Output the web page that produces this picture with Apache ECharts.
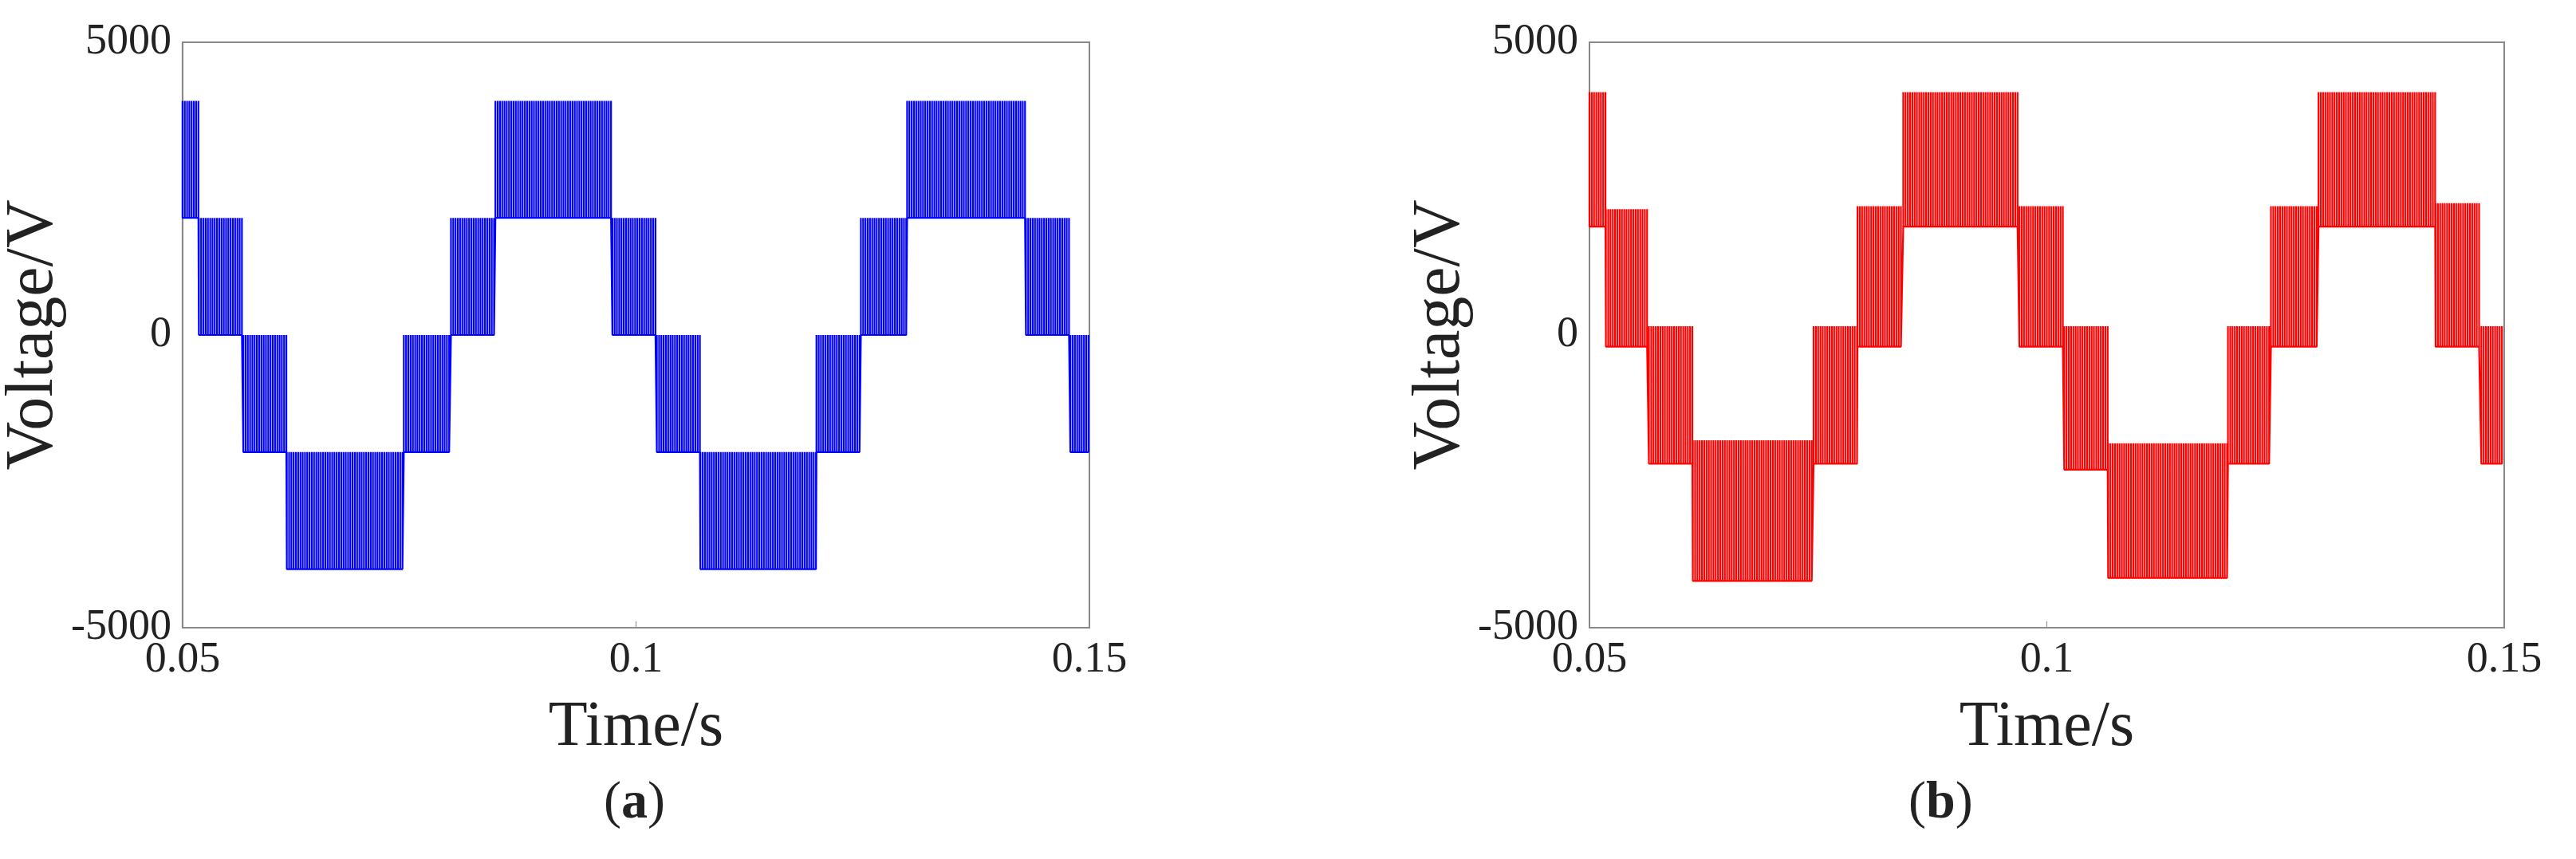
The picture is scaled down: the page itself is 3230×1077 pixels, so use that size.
<!DOCTYPE html>
<html>
<head>
<meta charset="utf-8">
<script src="https://cdn.jsdelivr.net/npm/echarts@6/dist/echarts.min.js"></script>
<style>
html, body { margin: 0; padding: 0; background: #fff; }
#main { width: 3230px; height: 1077px; }
</style>
</head>
<body>
<div id="main"></div>
<script>
// segment boundaries (s) and band low/high (V)
var segA_t = [0.05, 0.0518, 0.0567, 0.0615, 0.0744, 0.0796, 0.0845, 0.0974, 0.1023, 0.1071, 0.1199, 0.1248, 0.1299, 0.1430, 0.1479, 0.15];
var segA_lo = [2000, 0, -2000, -4000, -2000, 0, 2000, 0, -2000, -4000, -2000, 0, 2000, 0, -2000];
var segA_hi = [4000, 2000, 0, -2000, 0, 2000, 4000, 2000, 0, -2000, 0, 2000, 4000, 2000, 0];

var segB_t = [0.05, 0.0518, 0.0565, 0.0613, 0.0745, 0.0793, 0.0843, 0.0970, 0.1019, 0.1067, 0.1198, 0.1245, 0.1297, 0.1425, 0.1475, 0.15];
var segB_lo = [1850, -200, -2200, -4200, -2200, -200, 1850, -200, -2300, -4150, -2200, -200, 1850, -200, -2200];
var segB_hi = [4150, 2150, 150, -1800, 150, 2200, 4150, 2200, 150, -1850, 150, 2200, 4150, 2250, 150];

var xTicks = [0.05, 0.1, 0.15];
var yTicks = [-5000, 0, 5000];

// switching pulses drawn inside each band
function pulses(t, lo, hi, step){
	var out = [];
	for(var i = 0; i < lo.length; i ++){
		for(var x = t[i]; x < t[i + 1]; x += step){
			out.push([x, lo[i]], [x, hi[i]], [x, lo[i]]);
		}
	}
	return out;
}

var chart = echarts.init(document.getElementById('main'));
var font = "'Liberation Serif', 'DejaVu Serif', serif";

function xAxis(idx){
	return {
		gridIndex: idx, type: 'value', min: 0.05, max: 0.15, interval: 0.05,
		name: 'Time/s', nameLocation: 'middle', nameGap: 86,
		nameTextStyle: { fontFamily: font, fontSize: 80, color: '#222' },
		axisLine: { show: true, onZero: false, lineStyle: { color: '#888', width: 2 } },
		axisTick: { show: true, inside: true, length: 8, lineStyle: { color: '#888' } },
		axisLabel: { fontFamily: font, fontSize: 54, color: '#222', margin: 14,
			formatter: function(v){ return xTicks.indexOf(+v.toFixed(2)) >= 0 ? String(+v.toFixed(2)) : ''; } },
		splitLine: { show: false }
	};
}
function yAxis(idx){
	return {
		gridIndex: idx, type: 'value', min: -5000, max: 5000, interval: 5000,
		name: 'Voltage/V', nameLocation: 'middle', nameGap: 140,
		nameTextStyle: { fontFamily: font, fontSize: 84, color: '#222' },
		axisLine: { show: true, onZero: false, lineStyle: { color: '#888', width: 2 } },
		axisTick: { show: false },
		axisLabel: { fontFamily: font, fontSize: 54, color: '#222', margin: 14,
			formatter: function(v){ return yTicks.indexOf(v) >= 0 ? String(v) : ''; } },
		splitLine: { show: false }
	};
}

option = {
	animation: false,
	grid: [
		{ left: 220, top: 53, width: 1146, height: 734, show: true, borderColor: '#888', borderWidth: 2 },
		{ left: 1993, top: 53, width: 1147, height: 734, show: true, borderColor: '#888', borderWidth: 2 }
	],
	xAxis: [xAxis(0), xAxis(1)],
	yAxis: [yAxis(0), yAxis(1)],
	series: [
		{ type: 'line', xAxisIndex: 0, yAxisIndex: 0, data: pulses(segA_t, segA_lo, segA_hi, 0.00025),
			symbol: 'none', sampling: null, lineStyle: { color: '#0000ff', width: 2.2 } },
		{ type: 'line', xAxisIndex: 1, yAxisIndex: 1, data: pulses(segB_t, segB_lo, segB_hi, 0.00025),
			symbol: 'none', sampling: null, lineStyle: { color: '#ff0000', width: 2.2 } }
	],
	graphic: [
		{ type: 'text', left: 792 - 35, top: 975, style: { text: '{n|(}{b|a}{n|)}',
			rich: { n: { fontFamily: font, fontSize: 66, fill: '#222' }, b: { fontFamily: font, fontSize: 66, fontWeight: 'bold', fill: '#222' } } } },
		{ type: 'text', left: 2428 - 35, top: 975, style: { text: '{n|(}{b|b}{n|)}',
			rich: { n: { fontFamily: font, fontSize: 66, fill: '#222' }, b: { fontFamily: font, fontSize: 66, fontWeight: 'bold', fill: '#222' } } } }
	]
};
chart.setOption(option);
</script>
</body>
</html>
